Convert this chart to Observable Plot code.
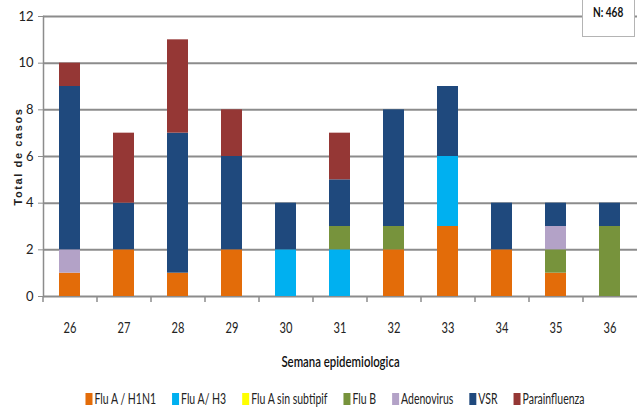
<!DOCTYPE html>
<html>
<head>
<meta charset="utf-8">
<script src="https://cdn.jsdelivr.net/npm/d3@7"></script>
<script src="https://cdn.jsdelivr.net/npm/@observablehq/plot@0.6"></script>
<style>
  body { margin: 0; background: #fff; font-family: Lato, sans-serif; }
  #wrap { position: relative; width: 637px; height: 411px; overflow: hidden; }
  #chart { position: absolute; left: 0; top: 0; }
  #nbox { position: absolute; left: 582px; top: -10px; width: 53px; height: 47px; border: 1.5px solid #b4b4b4; background: #fff; box-sizing: border-box; font-weight: bold; font-size: 14px; text-align: center; padding-top: 12px; color: #111; }
  #nbox span { display: inline-block; transform: scaleX(0.72); }
  #legend { position: absolute; left: 0; top: 388px; }
</style>
</head>
<body>
<div id="wrap">
  <div id="chart"></div>
  <div id="nbox"><span>N: 468</span></div>
  <svg id="legend" width="637" height="23"></svg>
</div>
<script>
const weeks = ["26","27","28","29","30","31","32","33","34","35","36"];
const seriesNames = ["Flu A / H1N1","Flu A/ H3","Flu A sin subtipif","Flu B","Adenovirus","VSR","Parainfluenza"];
const seriesColors = ["#E36C09","#00B0F0","#FFFF00","#77933C","#B3A2C7","#1F497D","#953735"];
const fluAH1N1     = [1,2,1,2,0,0,2,3,2,1,0];
const fluAH3       = [0,0,0,0,2,2,0,3,0,0,0];
const fluASinSub   = [0,0,0,0,0,0,0,0,0,0,0];
const fluB         = [0,0,0,0,0,1,1,0,0,1,3];
const adenovirus   = [1,0,0,0,0,0,0,0,0,1,0];
const vsr          = [7,2,6,4,2,2,5,3,2,1,1];
const parainfluenza= [1,3,4,2,0,2,0,0,0,0,0];
const yTicks = [0,2,4,6,8,10,12];

const seriesValues = [fluAH1N1, fluAH3, fluASinSub, fluB, adenovirus, vsr, parainfluenza];
const rows = [];
seriesNames.forEach((s, si) => weeks.forEach((w, wi) => {
  rows.push({week: w, series: s, value: seriesValues[si][wi]});
}));

const width = 637, marginLeft = 43, marginRight = 0;
const step = (width - marginLeft - marginRight) / weeks.length;

function compress(el, factor) {
  const len = el.getComputedTextLength();
  if (len > 0) {
    el.setAttribute("textLength", len * factor);
    el.setAttribute("lengthAdjust", "spacingAndGlyphs");
  }
}

const chart = Plot.plot({
  width, height: 375,
  marginLeft, marginRight, marginTop: 16, marginBottom: 79,
  style: {fontFamily: "Lato, sans-serif", fontSize: "13px", color: "#222", background: "transparent"},
  x: {domain: weeks, paddingInner: 0.61, paddingOuter: 0.305},
  y: {domain: [0, 12]},
  color: {domain: seriesNames, range: seriesColors},
  marks: [
    Plot.ruleY(yTicks, {stroke: "#8c8c8c", strokeWidth: 2}),
    Plot.barY(rows, Plot.stackY({x: "week", y: "value", fill: "series", order: seriesNames})),
    Plot.frame({anchor: "left", stroke: "#8c8c8c", strokeWidth: 1.5}),
    Plot.axisY({ticks: yTicks, tickSize: 5, tickPadding: 5, stroke: "#8c8c8c", fontSize: 13, label: null}),
    Plot.axisY({ticks: [], tickSize: 0, label: "Total de casos", labelAnchor: "center", labelArrow: "none", labelOffset: 29}),
    Plot.axisX({tickSize: 6, dx: -step / 2, text: null, stroke: "#8c8c8c", strokeWidth: 1.5, label: null}),
    Plot.axisX({tickSize: 0, tickPadding: 26, fontSize: 15, label: "Semana epidemiologica", labelAnchor: "center", labelArrow: "none", labelOffset: 70})
  ]
});
document.getElementById("chart").appendChild(chart);

// y label: bold, letter-spaced
chart.querySelectorAll("g[aria-label='y-axis label'] text").forEach(t => {
  t.setAttribute("font-weight", "bold");
  t.setAttribute("font-size", "11");
  t.setAttribute("letter-spacing", "1.6");
  t.setAttribute("font-family", "Liberation Sans, Arial, sans-serif");
});
// x tick labels: narrow (Calibri-like)
chart.querySelectorAll("g[aria-label='x-axis tick label'] text").forEach(t => compress(t, 0.74));
chart.querySelectorAll("g[aria-label='x-axis label'] text").forEach(t => {
  t.setAttribute("font-size", "15");
  t.setAttribute("font-weight", "600");
  t.setAttribute("fill", "#111");
  compress(t, 0.76);
});

// legend (narrow text via horizontal scale)
const squeeze = 0.7;
const lg = d3.select("#legend");
const items = lg.selectAll("g").data(seriesNames).join("g");
items.append("rect").attr("width", 7).attr("height", 12).attr("y", 5).attr("fill", (d, i) => seriesColors[i]);
items.append("text").attr("transform", `translate(9,16) scale(${squeeze},1)`)
  .attr("font-size", 15).attr("font-family", "Lato, sans-serif").attr("fill", "#222").text(d => d);
const gap = 16;
let x = 0;
const offsets = [];
items.each(function() {
  offsets.push(x);
  const t = d3.select(this).select("text").node();
  x += 9 + t.getComputedTextLength() * squeeze + gap;
});
const total = x - gap;
const start = 335 - total / 2;
items.attr("transform", (d, i) => `translate(${start + offsets[i]},0)`);
</script>
</body>
</html>
